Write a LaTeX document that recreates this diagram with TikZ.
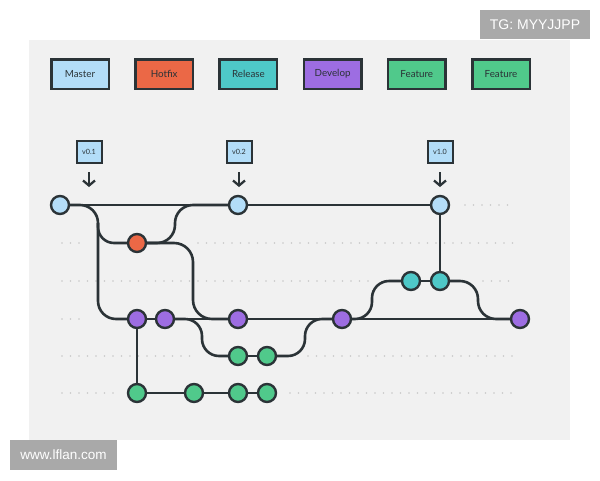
\documentclass[tikz,border=0pt]{standalone}
\usepackage{fontspec}
\setmainfont{Lato}
\newfontfamily\wmfont{Liberation Sans}
\usetikzlibrary{arrows.meta,backgrounds}
\definecolor{panel}{HTML}{F1F1F1}
\definecolor{ink}{HTML}{2B3337}
\definecolor{cMaster}{HTML}{B3DDF8}
\definecolor{cHot}{HTML}{EB6846}
\definecolor{cRel}{HTML}{4EC8C8}
\definecolor{cDev}{HTML}{9D6DE2}
\definecolor{cFeat}{HTML}{50C98B}
\definecolor{dotc}{HTML}{C8C8C8}
\definecolor{wm}{HTML}{A9A9A9}
\begin{document}
\begin{tikzpicture}[x=1pt,y=-1pt,
  legend/.style={draw=ink, line width=2.5pt, minimum width=57.5pt, minimum height=29.5pt, inner sep=0pt, font=\fontsize{9.8}{11}\selectfont, text=ink},
  tagbox/.style={draw=ink, fill=cMaster, line width=2pt, minimum width=25pt, minimum height=22pt, inner sep=0pt, font=\fontsize{7.2}{8}\selectfont, text=ink},
  commit/.style={circle, draw=ink, line width=2.4pt, minimum size=18pt, inner sep=0pt},
  link/.style={draw=ink, line width=2.6pt},
  dotrow/.style={draw=dotc, line width=1.8pt, line cap=round, dash pattern=on 0pt off 8.5pt},
  tagarrow/.style={draw=ink, line width=2.3pt, -{Straight Barb[length=5pt,width=12pt]}},
  wmbox/.style={fill=wm, text=white, inner sep=0pt, font=\wmfont\fontsize{13.5}{14}\selectfont},
]
\useasboundingbox (0,0) rectangle (600,480);

% watermarks
\node[wmbox, minimum width=110pt, minimum height=29pt, font=\wmfont\fontsize{14}{15}\selectfont] (tg) at (535,24.5) {TG: MYYJJPP};
\node[wmbox, minimum width=107pt, minimum height=30pt] (www) at (63.5,455) {www.lflan.com};

% legend
\node[legend, fill=cMaster] (lm) at (80,74) {Master};
\node[legend, fill=cHot] (lh) at (164.2,74) {Hotfix};
\node[legend, fill=cRel] (lr) at (248.4,74) {Release};
\node[legend, fill=cDev] (ld) at (332.6,74) {Develop};
\node[legend, fill=cFeat] (lf1) at (416.8,74) {Feature};
\node[legend, fill=cFeat] (lf2) at (501,74) {Feature};

% tags
\node[tagbox] (t1) at (89,152) {v0.1};
\node[tagbox] (t2) at (239,152) {v0.2};
\node[tagbox] (t3) at (440,152) {v1.0};
\coordinate (a1) at (89,187);
\coordinate (a2) at (239,187);
\coordinate (a3) at (440,187);
\draw[tagarrow, shorten <=8pt] (t1.south) -- (a1);
\draw[tagarrow, shorten <=8pt] (t2.south) -- (a2);
\draw[tagarrow, shorten <=8pt] (t3.south) -- (a3);

% commits
\node[commit, fill=cMaster] (M1) at (60,205) {};
\node[commit, fill=cMaster] (M2) at (238,205) {};
\node[commit, fill=cMaster] (M3) at (440,205) {};
\node[commit, fill=cHot] (H1) at (137,243) {};
\node[commit, fill=cRel] (R1) at (411,281) {};
\node[commit, fill=cRel] (R2) at (440,281) {};
\node[commit, fill=cDev] (D1) at (137,319) {};
\node[commit, fill=cDev] (D2) at (165,319) {};
\node[commit, fill=cDev] (D3) at (238,319) {};
\node[commit, fill=cDev] (D4) at (342,319) {};
\node[commit, fill=cDev] (D5) at (520,319) {};
\node[commit, fill=cFeat] (F1a) at (238,356) {};
\node[commit, fill=cFeat] (F1b) at (267,356) {};
\node[commit, fill=cFeat] (F2a) at (137,393) {};
\node[commit, fill=cFeat] (F2b) at (194,393) {};
\node[commit, fill=cFeat] (F2c) at (238,393) {};
\node[commit, fill=cFeat] (F2d) at (267,393) {};

\begin{scope}[on background layer]
  \fill[white] (0,0) rectangle (600,480);
  \fill[panel] (29,40) rectangle (570,440);
  % dotted guide rows
  \draw[dotrow] (465,205) -- (513,205);
  \draw[dotrow] (62,243) -- (82,243);
  \draw[dotrow] (198,243) -- (513,243);
  \draw[dotrow] (62,281) -- (372,281);
  \draw[dotrow] (483,281) -- (513,281);
  \draw[dotrow] (62,319) -- (85,319);
  \draw[dotrow] (62,356) -- (197,356);
  \draw[dotrow] (308,356) -- (513,356);
  \draw[dotrow] (62,393) -- (113,393);
  \draw[dotrow] (290,393) -- (513,393);
  % connectors
  \draw[link] (M1) -- (M2) -- (M3);
  \draw[link, rounded corners=18pt] (M1) -- (98,205) -- (98,319) -- (D1);
  \draw[link, rounded corners=16pt] (98,223) -- (98,243) -- (H1);
  \draw[link, rounded corners=18pt] (H1) -- (175,243) -- (175,205) -- (M2);
  \draw[link, rounded corners=19pt] (H1) -- (193,243) -- (193,319) -- (D3);
  \draw[link] (D1) -- (D2) -- (D3) -- (D4) -- (D5);
  \draw[link] (D1) -- (F2a);
  \draw[link] (F2a) -- (F2b) -- (F2c) -- (F2d);
  \draw[link, rounded corners=17pt] (D2) -- (202,319) -- (202,356) -- (F1a);
  \draw[link] (F1a) -- (F1b);
  \draw[link, rounded corners=17pt] (F1b) -- (305,356) -- (305,319) -- (D4);
  \draw[link, rounded corners=17pt] (D4) -- (372,319) -- (372,281) -- (R1);
  \draw[link] (R1) -- (R2);
  \draw[link, rounded corners=18pt] (R2) -- (478,281) -- (478,319) -- (D5);
  \draw[link] (R2) -- (M3);
\end{scope}
\end{tikzpicture}
\end{document}
